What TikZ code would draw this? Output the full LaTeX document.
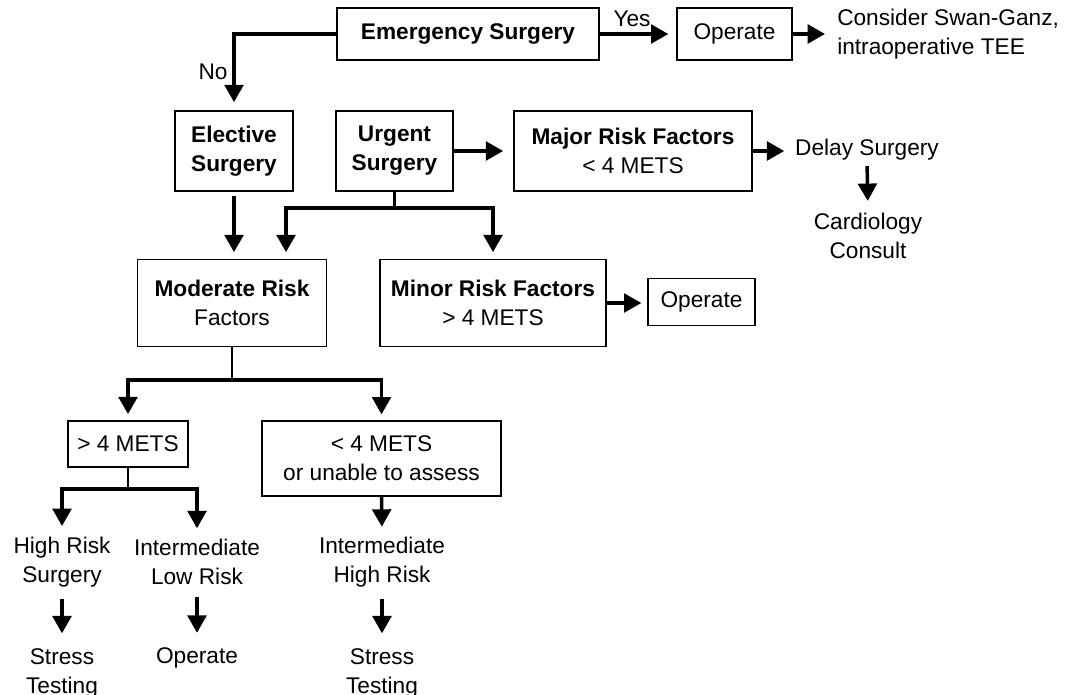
\documentclass[tikz,border=0pt]{standalone}
\usepackage{fontspec}
\setmainfont{Liberation Sans}
\usetikzlibrary{arrows.meta,calc}
\begin{document}
\begin{tikzpicture}[x=0.75pt,y=-0.75pt,
  every node/.style={font=\fontsize{17}{21.75}\selectfont, align=center},
  box/.style={draw, line width=1.2pt, inner sep=0pt},
  lbl/.style={inner sep=0pt},
  arr/.style={line width=2.6pt, -{Triangle[length=13pt,width=14pt]}, shorten >=5pt},
  stem/.style={line width=2pt}
]
\useasboundingbox (0,0) rectangle (1066,695);

% boxes
\node[box, minimum width=196.5pt, minimum height=39pt] (emerg) at (468,34) {\textbf{Emergency Surgery}};
\node[box, minimum width=86pt, minimum height=39pt] (op1) at (734.5,34) {Operate};
\node[box, minimum width=88.5pt, minimum height=60pt] (elective) at (234,151) {\textbf{Elective}\\\textbf{Surgery}};
\node[box, minimum width=87.75pt, minimum height=60pt] (urgent) at (394.5,151) {\textbf{Urgent}\\\textbf{Surgery}};
\node[box, minimum width=178.5pt, minimum height=60pt] (major) at (633,151) {\textbf{Major Risk Factors}\\< 4 METS};
\node[box, minimum width=141.75pt, minimum height=65pt] (moderate) at (232,303) {\textbf{Moderate Risk}\\Factors};
\node[box, minimum width=169.5pt, minimum height=65pt] (minor) at (493,303) {\textbf{Minor Risk Factors}\\> 4 METS};
\node[box, minimum width=80pt, minimum height=35pt] (op2) at (701.5,302) {Operate};
\node[box, minimum width=90pt, minimum height=34.5pt] (gt4) at (128,444) {> 4 METS};
\node[box, minimum width=179pt, minimum height=56pt] (lt4) at (381.5,458.5) {< 4 METS\\or unable to assess};

% plain text outcomes
\node[lbl, anchor=west, align=left] (consider) at (837,34) {Consider Swan-Ganz,\\intraoperative TEE};
\node[lbl] (delay) at (867,150) {Delay Surgery};
\node[lbl] (cardio) at (868,236) {Cardiology\\Consult};
\node[lbl] (hrs) at (62,562) {High Risk\\Surgery};
\node[lbl] (ilr) at (197,562) {Intermediate\\Low Risk};
\node[lbl] (ihr) at (382,562) {Intermediate\\High Risk};
\node[lbl] (st1) at (62,673) {Stress\\Testing};
\node[lbl] (op3) at (197,658) {Operate};
\node[lbl] (st2) at (382,673) {Stress\\Testing};

% branch labels
\node[lbl] (yes) at (632,19) {Yes};
\node[lbl] (no) at (213,72) {No};

% branch points
\coordinate (ub) at ($(urgent.south)+(0,16)$);
\coordinate (mb) at ($(moderate.south)+(0,33)$);
\coordinate (gb) at ($(gt4.south)+(0,21)$);

% connectors
\draw[arr, shorten >=6pt] (emerg.west) -| (elective.north);
\draw[arr, shorten >=6pt] (emerg.east) -- (op1.west);
\draw[arr, shorten >=9pt] (op1.east) -- (consider.west);
\draw[arr, shorten <=3pt] (elective.south) -- (elective.south |- moderate.north);
\draw[arr, shorten >=7.5pt] (urgent.east) -- (urgent.east -| major.west);
\draw[arr, shorten >=8pt] (major.east) -- (major.east -| delay.west);
\draw[arr, shorten <=4pt, shorten >=9pt] (delay.south) -- (cardio.north);
\draw[stem] (urgent.south) -- (ub);
\draw[arr] (ub) -| ($(moderate.north)+(54,0)$);
\draw[arr] (ub) -| (minor.north);
\draw[arr, shorten >=4.5pt] (minor.east) -- (minor.east -| op2.west);
\draw[stem] (moderate.south) -- (mb);
\draw[arr, shorten >=4.5pt] (mb) -| (gt4.north);
\draw[arr, shorten >=4.5pt] (mb) -| (lt4.north);
\draw[stem] (gt4.south) -- (gb);
\draw[arr, shorten >=8pt] (gb) -| (hrs.north);
\draw[arr, shorten >=8pt] (gb) -| (ilr.north);
\draw[arr, shorten >=7.5pt] (lt4.south) -- (ihr.north);
\draw[arr, shorten <=9pt, shorten >=11pt] (hrs.south) -- (st1.north);
\draw[arr, shorten <=9pt, shorten >=11pt] (ilr.south) -- (op3.north);
\draw[arr, shorten <=9pt, shorten >=11pt] (ihr.south) -- (st2.north);
\end{tikzpicture}
\end{document}
